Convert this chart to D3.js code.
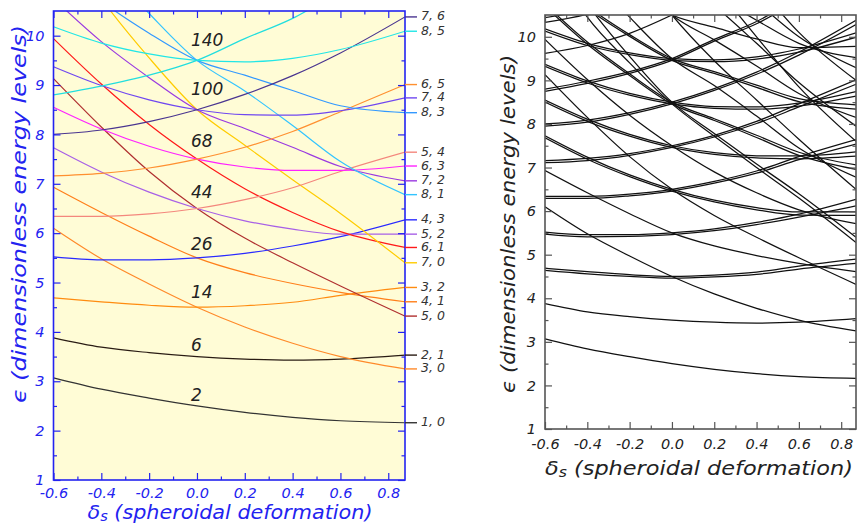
<!DOCTYPE html>
<html>
<head>
<meta charset="utf-8">
<script src="https://cdn.jsdelivr.net/npm/d3@7"></script>
<style>
  body { margin: 0; background: #fff; }
  text { font-family: "DejaVu Sans", sans-serif; font-style: italic; }
</style>
</head>
<body>
<svg id="chart" width="858" height="526"></svg>
<script>
const xs = [-0.6, -0.4, -0.2, 0, 0.2, 0.4, 0.6, 0.87];

const levelLabels = ["1, 0", "2, 1", "3, 0", "3, 2", "4, 1", "5, 0", "4, 3", "5, 2", "6, 1", "7, 0",
  "5, 4", "6, 3", "7, 2", "8, 1", "6, 5", "7, 4", "8, 3", "7, 6", "8, 5", ""];
const levelColors = ["#333333", "#2a1c14", "#ff8a2a", "#ff8c10", "#ff7f1a", "#b03030", "#2a2aff", "#a860e6", "#ff1a1a", "#ffcc00",
  "#f4877d", "#ff22ff", "#9a3ae0", "#33c4ff", "#ff9030", "#7048f0", "#3399ff", "#4a3590", "#22e6e6", "#22dede"];
const levelValues = [
  [3.07, 2.84, 2.66, 2.50, 2.37, 2.27, 2.20, 2.16],
  [3.88, 3.69, 3.58, 3.50, 3.45, 3.43, 3.45, 3.53],
  [6.10, 5.48, 4.97, 4.50, 4.10, 3.77, 3.50, 3.25],
  [4.69, 4.61, 4.54, 4.50, 4.53, 4.60, 4.74, 4.90],
  [6.93, 6.42, 5.94, 5.50, 5.20, 4.98, 4.80, 4.61],
  [9.13, 8.15, 7.25, 6.50, 5.90, 5.40, 4.93, 4.32],
  [5.52, 5.46, 5.46, 5.50, 5.59, 5.74, 5.93, 6.27],
  [7.73, 7.24, 6.83, 6.50, 6.25, 6.08, 5.98, 5.98],
  [9.94, 9.02, 8.20, 7.50, 6.90, 6.42, 6.03, 5.71],
  [12.2, 10.75, 9.55, 8.50, 7.78, 7.08, 6.40, 5.40],
  [6.34, 6.34, 6.39, 6.50, 6.68, 6.92, 7.25, 7.64],
  [8.55, 8.11, 7.76, 7.50, 7.34, 7.27, 7.27, 7.36],
  [10.75, 9.88, 9.15, 8.50, 8.12, 7.74, 7.35, 7.06],
  [12.6, 11.5, 10.45, 9.50, 8.88, 8.18, 7.45, 6.78],
  [7.16, 7.21, 7.32, 7.50, 7.74, 8.06, 8.46, 9.01],
  [9.37, 8.99, 8.70, 8.50, 8.40, 8.39, 8.48, 8.74],
  [11.5, 10.7, 10.05, 9.50, 9.20, 8.89, 8.58, 8.44],
  [8.00, 8.09, 8.26, 8.50, 8.81, 9.19, 9.65, 10.38],
  [10.18, 9.85, 9.63, 9.50, 9.47, 9.54, 9.72, 10.09],
  [8.80, 8.98, 9.20, 9.50, 9.94, 10.35, 10.9, 11.6]
];

// shell closures written beside the degenerate points
const magicNumbers = ["2", "6", "14", "26", "44", "68", "100", "140"];
const magicLabelY = [2.73, 3.74, 4.80, 5.79, 6.84, 7.86, 8.91, 9.91];

// right panel: close partner levels and the higher shells
const twinValues = [
  [4.64, 4.56, 4.50, 4.46, 4.49, 4.55, 4.67, 4.80],
  [5.47, 5.41, 5.42, 5.46, 5.55, 5.69, 5.86, 6.12],
  [7.68, 7.19, 6.79, 6.46, 6.21, 6.03, 5.91, 5.90],
  [6.29, 6.29, 6.35, 6.46, 6.64, 6.87, 7.18, 7.54],
  [8.50, 8.06, 7.72, 7.46, 7.30, 7.22, 7.20, 7.26],
  [7.11, 7.16, 7.28, 7.46, 7.70, 8.01, 8.39, 8.91],
  [10.70, 9.83, 9.11, 8.46, 8.08, 7.69, 7.28, 6.96],
  [9.32, 8.94, 8.66, 8.46, 8.36, 8.34, 8.41, 8.64],
  [7.95, 8.04, 8.22, 8.46, 8.77, 9.14, 9.58, 10.28],
  [11.45, 10.65, 10.01, 9.46, 9.16, 8.84, 8.51, 8.34],
  [10.13, 9.80, 9.59, 9.46, 9.43, 9.49, 9.65, 9.99],
  [8.75, 8.93, 9.16, 9.46, 9.90, 10.30, 10.83, 11.5],
  [12.0, 10.45, 9.40, 8.46, 7.72, 7.00, 6.30, 5.28]
];
const extraValues = [
  [9.62, 9.80, 10.08, 10.5, 11.0, 11.5, 12.1, 12.9],
  [10.44, 10.62, 10.95, 11.5, 12.0, 12.6, 13.2, 14.0],
  [10.33, 10.52, 10.85, 11.4, 11.9, 12.5, 13.1, 13.9],
  [12.5, 11.8, 11.1, 10.5, 10.22, 9.95, 9.75, 9.78],
  [13.6, 12.5, 11.5, 10.5, 9.93, 9.33, 8.70, 8.15],
  [14.5, 13.2, 11.8, 10.5, 9.45, 8.55, 7.65, 6.50],
  [14.0, 13.0, 12.2, 11.5, 10.95, 10.38, 9.85, 9.52],
  [16.0, 14.5, 13.0, 11.5, 10.72, 9.85, 8.95, 7.95],
  [15.0, 14.0, 13.2, 12.5, 11.6, 10.8, 10.0, 9.29],
  [17.0, 15.5, 14.0, 12.5, 11.2, 10.0, 8.85, 7.60],
  [18.0, 16.5, 15.0, 13.5, 12.3, 11.2, 10.1, 9.00]
];

const xTicks = [-0.6, -0.4, -0.2, 0, 0.2, 0.4, 0.6, 0.8];
const xMinorTicks = [-0.5, -0.3, -0.1, 0.1, 0.3, 0.5, 0.7];
const yTicks = [1, 2, 3, 4, 5, 6, 7, 8, 9, 10];
const yMinorTicks = [1.5, 2.5, 3.5, 4.5, 5.5, 6.5, 7.5, 8.5, 9.5];

const svg = d3.select("#chart");

function drawPanel(cfg) {
  const x = d3.scaleLinear().domain([-0.6, 0.87]).range([cfg.left, cfg.right]);
  const y = d3.scaleLinear().domain([1, 10.5]).range([cfg.bottom, cfg.top]);
  const g = svg.append("g");

  g.append("rect")
    .attr("x", cfg.left).attr("y", cfg.top)
    .attr("width", cfg.right - cfg.left).attr("height", cfg.bottom - cfg.top)
    .attr("fill", cfg.bg);

  g.append("clipPath").attr("id", cfg.id + "-clip")
    .append("rect")
    .attr("x", cfg.left).attr("y", cfg.top)
    .attr("width", cfg.right - cfg.left).attr("height", cfg.bottom - cfg.top);

  const line = d3.line()
    .x((d, i) => x(xs[i]))
    .y(d => y(d))
    .curve(d3.curveMonotoneX);

  g.append("g").attr("clip-path", "url(#" + cfg.id + "-clip)")
    .selectAll("path")
    .data(cfg.curves)
    .join("path")
    .attr("d", d => line(d.values))
    .attr("fill", "none")
    .attr("stroke", d => d.color)
    .attr("stroke-width", cfg.lineWidth);

  const fmtX = d => d.toFixed(1);
  const axes = [
    [d3.axisLeft(y).tickValues(yTicks).tickSize(-7).tickPadding(9), cfg.left, 0],
    [d3.axisLeft(y).tickValues(yMinorTicks).tickSize(-3.5).tickFormat(""), cfg.left, 0],
    [d3.axisRight(y).tickValues(yTicks).tickSize(-7).tickFormat(""), cfg.right, 0],
    [d3.axisRight(y).tickValues(yMinorTicks).tickSize(-3.5).tickFormat(""), cfg.right, 0],
    [d3.axisBottom(x).tickValues(xTicks).tickSize(-7).tickPadding(cfg.xPad).tickFormat(fmtX), 0, cfg.bottom],
    [d3.axisBottom(x).tickValues(xMinorTicks).tickSize(-3.5).tickFormat(""), 0, cfg.bottom],
    [d3.axisTop(x).tickValues(xTicks).tickSize(-7).tickFormat(""), 0, cfg.top],
    [d3.axisTop(x).tickValues(xMinorTicks).tickSize(-3.5).tickFormat(""), 0, cfg.top]
  ];
  axes.forEach(([ax, tx, ty]) => {
    const a = g.append("g").attr("transform", "translate(" + tx + "," + ty + ")").call(ax);
    a.select(".domain").remove();
    a.selectAll("line").attr("stroke", cfg.axisColor).attr("stroke-width", 1.2);
    a.selectAll("text")
      .attr("fill", cfg.textColor)
      .style("font-size", cfg.tickFont + "px")
      .style("font-family", "DejaVu Sans")
      .style("font-style", "italic");
  });

  g.append("rect")
    .attr("x", cfg.left).attr("y", cfg.top)
    .attr("width", cfg.right - cfg.left).attr("height", cfg.bottom - cfg.top)
    .attr("fill", "none")
    .attr("stroke", cfg.axisColor)
    .attr("stroke-width", 1.6);

  // axis titles
  const xt = g.append("text")
    .attr("x", cfg.xTitle[0]).attr("y", cfg.xTitle[1])
    .attr("text-anchor", "middle")
    .attr("dominant-baseline", "central")
    .attr("fill", cfg.textColor)
    .attr("textLength", cfg.xTitle[2]).attr("lengthAdjust", "spacingAndGlyphs")
    .style("font-size", cfg.titleFont + "px");
  xt.append("tspan").text("δ");
  xt.append("tspan").attr("dy", 4).style("font-size", (cfg.titleFont * 0.7) + "px").text("s");
  xt.append("tspan").attr("dy", -4).text("  (spheroidal deformation)");

  g.append("text")
    .attr("transform", "translate(" + cfg.yTitle[0] + "," + cfg.yTitle[1] + ") rotate(-90)")
    .attr("text-anchor", "middle")
    .attr("dominant-baseline", "central")
    .attr("fill", cfg.textColor)
    .attr("textLength", cfg.yTitle[2]).attr("lengthAdjust", "spacingAndGlyphs")
    .style("font-size", cfg.titleFont + "px")
    .text("ϵ (dimensionless energy levels)");

  return { g, x, y };
}

// ----- left panel: labelled, coloured levels -----
const leftCurves = levelValues.map((v, i) => ({ values: v, color: levelColors[i] }));
const L = drawPanel({
  id: "left", left: 53.5, right: 405, top: 11, bottom: 480,
  bg: "#fffcd6", axisColor: "#2323f0", textColor: "#2323f0",
  curves: leftCurves, lineWidth: 1.2, tickFont: 14.5, xPad: 8, titleFont: 19,
  xTitle: [230, 512, 285], yTitle: [19, 214, 378]
});

// stubs and quantum-number labels past the right edge
levelLabels.forEach((lab, i) => {
  if (!lab) return;
  const v = levelValues[i][levelValues[i].length - 1];
  L.g.append("line")
    .attr("x1", L.x(0.87)).attr("x2", L.x(0.87) + 12)
    .attr("y1", L.y(v)).attr("y2", L.y(v))
    .attr("stroke", levelColors[i]).attr("stroke-width", 1.4);
  L.g.append("text")
    .attr("x", L.x(0.87) + 16).attr("y", L.y(v) - 1)
    .attr("dominant-baseline", "central")
    .attr("fill", "#333")
    .style("font-size", "12.5px")
    .text(lab);
});

L.g.selectAll("text.magic")
  .data(magicNumbers)
  .join("text")
  .attr("class", "magic")
  .attr("x", L.x(0) - 6)
  .attr("y", (d, i) => L.y(magicLabelY[i]))
  .attr("dominant-baseline", "central")
  .attr("fill", "#222")
  .style("font-size", "17px")
  .text(d => d);

// ----- right panel: full spectrum in black -----
const rightCurves = levelValues.concat(twinValues, extraValues).map(v => ({ values: v, color: "#111" }));
drawPanel({
  id: "right", left: 545, right: 856, top: 15, bottom: 429,
  bg: "#fff", axisColor: "#555", textColor: "#222",
  curves: rightCurves, lineWidth: 1.25, tickFont: 14.5, xPad: 10, titleFont: 20,
  xTitle: [699, 468, 308], yTitle: [508, 224, 338]
});
</script>
</body>
</html>
